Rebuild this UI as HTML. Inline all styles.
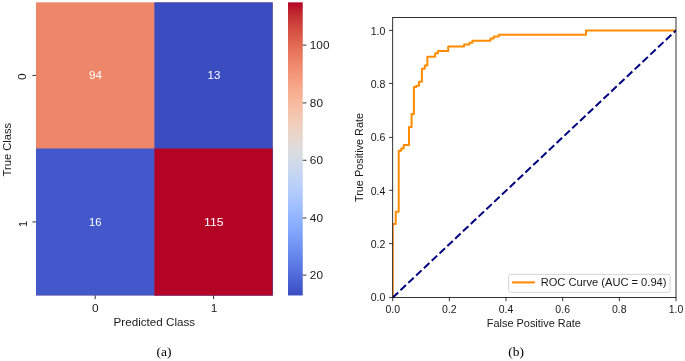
<!DOCTYPE html>
<html><head><meta charset="utf-8"><title>fig</title><style>html,body{margin:0;padding:0;background:#fff}svg{display:block;will-change:transform}text{font-family:"Liberation Sans",sans-serif;fill:#1a1a1a}.s{font-family:"Liberation Serif",serif}</style></head><body>
<svg width="685" height="361" viewBox="0 0 685 361">
<defs><linearGradient id="cw" x1="0" y1="0" x2="0" y2="1"><stop offset="0.0000" stop-color="#b40426"/><stop offset="0.0312" stop-color="#be242e"/><stop offset="0.0625" stop-color="#ca3b37"/><stop offset="0.0938" stop-color="#d44e41"/><stop offset="0.1250" stop-color="#dd5f4b"/><stop offset="0.1562" stop-color="#e46e56"/><stop offset="0.1875" stop-color="#eb7d62"/><stop offset="0.2188" stop-color="#f08b6e"/><stop offset="0.2500" stop-color="#f4987a"/><stop offset="0.2812" stop-color="#f6a586"/><stop offset="0.3125" stop-color="#f7b093"/><stop offset="0.3438" stop-color="#f7ba9f"/><stop offset="0.3750" stop-color="#f5c4ac"/><stop offset="0.4062" stop-color="#f1ccb8"/><stop offset="0.4375" stop-color="#ecd3c5"/><stop offset="0.4688" stop-color="#e5d8d1"/><stop offset="0.5000" stop-color="#dddcdc"/><stop offset="0.5312" stop-color="#d5dbe5"/><stop offset="0.5625" stop-color="#ccd9ed"/><stop offset="0.5938" stop-color="#c3d5f4"/><stop offset="0.6250" stop-color="#b9d0f9"/><stop offset="0.6562" stop-color="#aec9fc"/><stop offset="0.6875" stop-color="#a3c2fe"/><stop offset="0.7188" stop-color="#98b9ff"/><stop offset="0.7500" stop-color="#8db0fe"/><stop offset="0.7812" stop-color="#82a6fb"/><stop offset="0.8125" stop-color="#779af7"/><stop offset="0.8438" stop-color="#6c8ff1"/><stop offset="0.8750" stop-color="#6282ea"/><stop offset="0.9062" stop-color="#5875e1"/><stop offset="0.9375" stop-color="#4e68d8"/><stop offset="0.9688" stop-color="#445acc"/><stop offset="1.0000" stop-color="#3b4cc0"/></linearGradient><clipPath id="ax"><rect x="392.70" y="17.50" width="283.30" height="280.10"/></clipPath></defs>
<rect x="0" y="0" width="685" height="361" fill="#fff"/>
<rect x="36.00" y="2.35" width="236.75" height="293.10" fill="#ee8669"/>
<rect x="154.37" y="2.35" width="118.38" height="293.10" fill="#3b4cc0"/>
<clipPath id="hm"><rect x="36.00" y="148.47" width="236.75" height="146.98"/></clipPath>
<g clip-path="url(#hm)">
<rect x="36.00" y="2.35" width="236.75" height="298.10" fill="#4358cb"/>
<rect x="154.37" y="2.35" width="118.38" height="298.10" fill="#b40426"/>
</g>
<text x="95.60" y="79.00" font-size="10.70" text-anchor="middle" textLength="13.00" lengthAdjust="spacingAndGlyphs" style="fill:#fff">94</text>
<text x="214.00" y="79.00" font-size="10.70" text-anchor="middle" textLength="12.80" lengthAdjust="spacingAndGlyphs" style="fill:#fff">13</text>
<text x="95.28" y="226.00" font-size="10.70" text-anchor="middle" textLength="12.60" lengthAdjust="spacingAndGlyphs" style="fill:#fff">16</text>
<text x="213.86" y="226.00" font-size="10.70" text-anchor="middle" textLength="19.60" lengthAdjust="spacingAndGlyphs" style="fill:#fff">115</text>
<line x1="95.19" y1="295.45" x2="95.19" y2="299.05" stroke="#000" stroke-width="0.80"/>
<line x1="213.56" y1="295.45" x2="213.56" y2="299.05" stroke="#000" stroke-width="0.80"/>
<line x1="32.40" y1="75.41" x2="36.00" y2="75.41" stroke="#000" stroke-width="0.80"/>
<line x1="32.40" y1="221.96" x2="36.00" y2="221.96" stroke="#000" stroke-width="0.80"/>
<text x="95.28" y="311.80" font-size="10.70" text-anchor="middle" textLength="6.60" lengthAdjust="spacingAndGlyphs">0</text>
<text x="213.96" y="311.80" font-size="10.70" text-anchor="middle" textLength="6.60" lengthAdjust="spacingAndGlyphs">1</text>
<text x="26.20" y="76.81" font-size="10.70" text-anchor="middle" textLength="6.60" lengthAdjust="spacingAndGlyphs" transform="rotate(-90 26.20 76.81)">0</text>
<text x="26.60" y="223.96" font-size="10.70" text-anchor="middle" textLength="6.60" lengthAdjust="spacingAndGlyphs" transform="rotate(-90 26.60 223.96)">1</text>
<text x="154.37" y="326.30" font-size="10.70" text-anchor="middle" textLength="81.60" lengthAdjust="spacingAndGlyphs">Predicted Class</text>
<text x="11.00" y="149.60" font-size="10.70" text-anchor="middle" textLength="53.60" lengthAdjust="spacingAndGlyphs" transform="rotate(-90 11.00 149.60)">True Class</text>
<rect x="288.00" y="2.35" width="14.75" height="293.10" fill="url(#cw)"/>
<line x1="302.75" y1="275.10" x2="306.45" y2="275.10" stroke="#000" stroke-width="0.80"/>
<text x="309.85" y="279.00" font-size="10.70" text-anchor="start" textLength="13.10" lengthAdjust="spacingAndGlyphs">20</text>
<line x1="302.75" y1="218.00" x2="306.45" y2="218.00" stroke="#000" stroke-width="0.80"/>
<text x="309.85" y="222.00" font-size="10.70" text-anchor="start" textLength="13.10" lengthAdjust="spacingAndGlyphs">40</text>
<line x1="302.75" y1="160.25" x2="306.45" y2="160.25" stroke="#000" stroke-width="0.80"/>
<text x="309.85" y="164.00" font-size="10.70" text-anchor="start" textLength="13.10" lengthAdjust="spacingAndGlyphs">60</text>
<line x1="302.75" y1="102.90" x2="306.45" y2="102.90" stroke="#000" stroke-width="0.80"/>
<text x="309.85" y="107.00" font-size="10.70" text-anchor="start" textLength="13.10" lengthAdjust="spacingAndGlyphs">80</text>
<line x1="302.75" y1="45.10" x2="306.45" y2="45.10" stroke="#000" stroke-width="0.80"/>
<text x="309.85" y="49.00" font-size="10.70" text-anchor="start" textLength="19.60" lengthAdjust="spacingAndGlyphs">100</text>
<text x="163.90" y="356.40" font-size="13.50" text-anchor="middle" style="fill:#000" class="s">(a)</text>
<line x1="392.70" y1="297.60" x2="392.70" y2="301.20" stroke="#000" stroke-width="0.80"/>
<text x="392.70" y="313.00" font-size="10.00" text-anchor="middle" textLength="14.60" lengthAdjust="spacingAndGlyphs">0.0</text>
<line x1="389.10" y1="297.60" x2="392.70" y2="297.60" stroke="#000" stroke-width="0.80"/>
<text x="385.40" y="301.00" font-size="10.00" text-anchor="end" textLength="14.70" lengthAdjust="spacingAndGlyphs">0.0</text>
<line x1="449.36" y1="297.60" x2="449.36" y2="301.20" stroke="#000" stroke-width="0.80"/>
<text x="449.36" y="313.00" font-size="10.00" text-anchor="middle" textLength="14.60" lengthAdjust="spacingAndGlyphs">0.2</text>
<line x1="389.10" y1="243.60" x2="392.70" y2="243.60" stroke="#000" stroke-width="0.80"/>
<text x="385.40" y="248.00" font-size="10.00" text-anchor="end" textLength="14.70" lengthAdjust="spacingAndGlyphs">0.2</text>
<line x1="506.02" y1="297.60" x2="506.02" y2="301.20" stroke="#000" stroke-width="0.80"/>
<text x="506.02" y="313.00" font-size="10.00" text-anchor="middle" textLength="14.60" lengthAdjust="spacingAndGlyphs">0.4</text>
<line x1="389.10" y1="190.30" x2="392.70" y2="190.30" stroke="#000" stroke-width="0.80"/>
<text x="385.40" y="195.00" font-size="10.00" text-anchor="end" textLength="14.70" lengthAdjust="spacingAndGlyphs">0.4</text>
<line x1="562.68" y1="297.60" x2="562.68" y2="301.20" stroke="#000" stroke-width="0.80"/>
<text x="562.68" y="313.00" font-size="10.00" text-anchor="middle" textLength="14.60" lengthAdjust="spacingAndGlyphs">0.6</text>
<line x1="389.10" y1="137.40" x2="392.70" y2="137.40" stroke="#000" stroke-width="0.80"/>
<text x="385.40" y="141.00" font-size="10.00" text-anchor="end" textLength="14.70" lengthAdjust="spacingAndGlyphs">0.6</text>
<line x1="619.34" y1="297.60" x2="619.34" y2="301.20" stroke="#000" stroke-width="0.80"/>
<text x="619.34" y="313.00" font-size="10.00" text-anchor="middle" textLength="14.60" lengthAdjust="spacingAndGlyphs">0.8</text>
<line x1="389.10" y1="83.40" x2="392.70" y2="83.40" stroke="#000" stroke-width="0.80"/>
<text x="385.40" y="88.00" font-size="10.00" text-anchor="end" textLength="14.70" lengthAdjust="spacingAndGlyphs">0.8</text>
<line x1="676.00" y1="297.60" x2="676.00" y2="301.20" stroke="#000" stroke-width="0.80"/>
<text x="676.00" y="313.00" font-size="10.00" text-anchor="middle" textLength="14.60" lengthAdjust="spacingAndGlyphs">1.0</text>
<line x1="389.10" y1="30.40" x2="392.70" y2="30.40" stroke="#000" stroke-width="0.80"/>
<text x="385.40" y="35.00" font-size="10.00" text-anchor="end" textLength="14.70" lengthAdjust="spacingAndGlyphs">1.0</text>
<text x="533.85" y="326.60" font-size="10.00" text-anchor="middle" textLength="94.20" lengthAdjust="spacingAndGlyphs">False Positive Rate</text>
<text x="362.60" y="157.50" font-size="10.00" text-anchor="middle" textLength="89.20" lengthAdjust="spacingAndGlyphs" transform="rotate(-90 362.60 157.50)">True Positive Rate</text>
<g clip-path="url(#ax)">
<path d="M392.70,297.60 L392.70,224.00 L395.75,224.00 L395.75,211.80 L398.70,211.80 L398.70,150.80 L401.20,150.80 L401.20,148.60 L403.75,148.60 L403.75,144.90 L409.00,144.90 L409.00,126.90 L411.60,126.90 L411.60,114.00 L413.90,114.00 L413.90,87.10 L416.40,87.10 L416.40,85.70 L419.00,85.70 L419.00,81.70 L421.90,81.70 L421.90,68.85 L424.80,68.85 L424.80,65.60 L427.35,65.60 L427.35,56.65 L435.15,56.65 L435.15,53.15 L437.95,53.15 L437.95,50.95 L448.20,50.95 L448.20,46.40 L464.10,46.40 L464.10,44.60 L469.45,44.60 L469.45,42.85 L472.40,42.85 L472.40,40.80 L490.45,40.80 L490.45,38.60 L493.75,38.60 L493.75,36.40 L498.80,36.40 L498.80,34.65 L586.00,34.65 L586.00,30.40 L675.90,30.40" fill="none" stroke="#ff8c00" stroke-width="2" stroke-linejoin="round" stroke-linecap="square"/>
<line x1="392.70" y1="297.60" x2="676.00" y2="30.40" stroke="#000080" stroke-width="2" stroke-dasharray="7.5 3.23"/>
</g>
<rect x="392.70" y="17.50" width="283.30" height="280.10" fill="none" stroke="#000" stroke-width="0.8"/>
<rect x="508.5" y="274.4" width="161.7" height="17.9" rx="2" ry="2" fill="#fff" fill-opacity="0.8" stroke="#ccc" stroke-opacity="0.8" stroke-width="1"/>
<line x1="512.10" y1="282.40" x2="534.90" y2="282.40" stroke="#ff8c00" stroke-width="2.10"/>
<text x="540.70" y="286.40" font-size="10.00" text-anchor="start" textLength="125.80" lengthAdjust="spacingAndGlyphs">ROC Curve (AUC = 0.94)</text>
<text x="516.20" y="356.40" font-size="13.50" text-anchor="middle" style="fill:#000" class="s">(b)</text>
</svg></body></html>
